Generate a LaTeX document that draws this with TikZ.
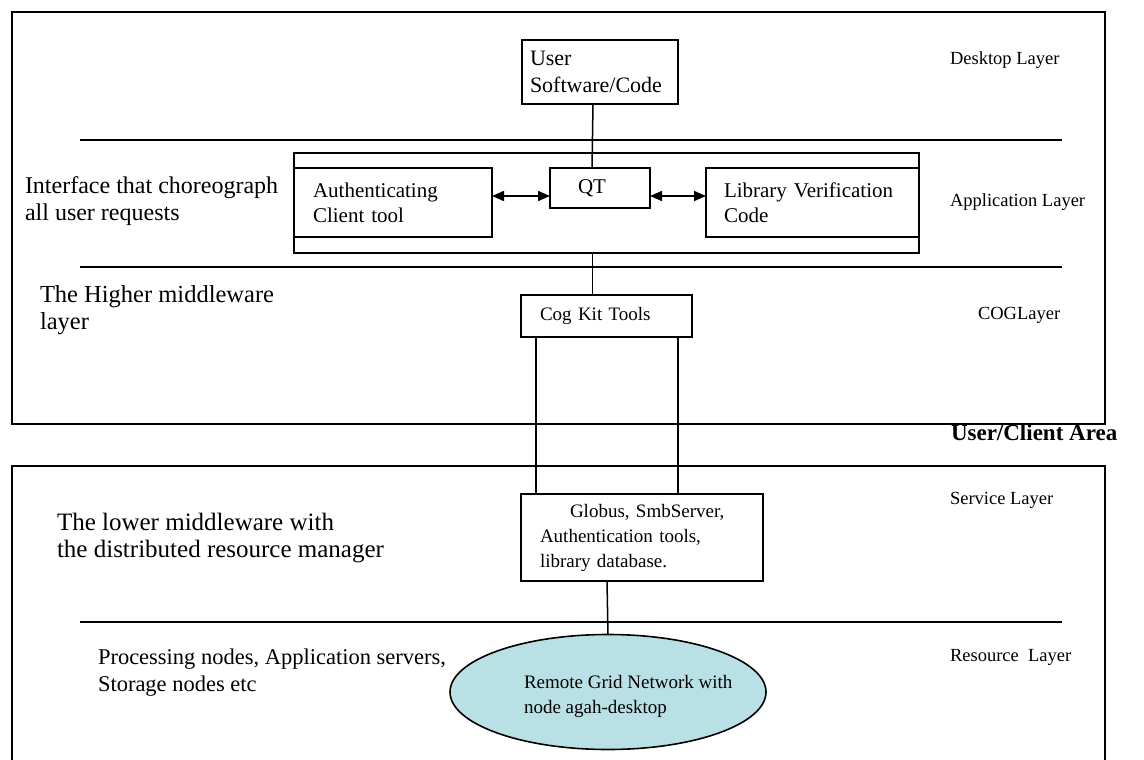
\documentclass[tikz,border=0pt]{standalone}
\usepackage{fontspec}
\setmainfont{Liberation Serif}
\usetikzlibrary{arrows.meta,shapes.geometric}
\definecolor{gridfill}{RGB}{185,224,228}
\begin{document}
\begin{tikzpicture}[x=1pt,y=-1pt,
  every node/.style={inner sep=0pt,outer sep=0pt},
  boxtext/.style={font=\fontsize{19}{25}\selectfont},
  bigbox/.style={font=\fontsize{21}{25}\selectfont},
  lefttext/.style={font=\fontsize{23.5}{27}\selectfont,align=left,anchor=west},
  righttext/.style={font=\fontsize{18.5}{22}\selectfont,anchor=west},
  plainbox/.style={draw,line width=1.5pt,boxtext,align=left},
  frame/.style={line width=1.8pt},
  conn/.style={line width=1.5pt},
  dbl/.style={line width=1.5pt,{Triangle[length=12pt,width=10pt]}-{Triangle[length=12pt,width=10pt]}}
]
\useasboundingbox (0,0) rectangle (1144,760);
% outer areas
\draw[frame] (12,12) rectangle (1105,424);
\draw[frame] (12,762) -- (12,466) -- (1105,466) -- (1105,762);
% layer separators
\draw[conn] (80,140) -- (1062,140);
\draw[conn] (80,267) -- (1062,267);
\draw[conn] (80,622) -- (1062,622);
% boxes
\node[plainbox,font=\fontsize{22}{27}\selectfont,minimum width=156pt,minimum height=64pt,text width=140pt,inner xsep=8pt] (user) at (600,72) {User\\Software/Code};
\node[draw,line width=1.5pt,minimum width=625pt,minimum height=100pt] (app) at (606.5,203) {};
\node[plainbox,bigbox,minimum width=198pt,minimum height=69pt,text width=160pt,inner xsep=19pt,anchor=west] (auth) at (294,202.5) {Authenticating\\Client tool};
\node[plainbox,bigbox,minimum width=100pt,minimum height=40pt,text width=44pt,inner xsep=28pt] (qt) at (600,188) {QT};
\node[plainbox,bigbox,minimum width=213pt,minimum height=69pt,text width=177pt,inner xsep=18pt,anchor=east] (lib) at (919,202.5) {Library Verification\\Code};
\node[plainbox,minimum width=171pt,minimum height=42pt,text width=133pt,inner xsep=19pt] (cog) at (606.5,316) {Cog Kit Tools};
\node[plainbox,minimum width=242pt,minimum height=87pt,text width=204pt,inner xsep=19pt] (glob) at (642,537.5) {\hspace*{30pt}Globus, SmbServer,\\Authentication tools,\\library database.};
\node[ellipse,draw,line width=1.6pt,fill=gridfill,minimum width=316pt,minimum height=115pt] (grid) at (608,692) {};
\node[boxtext,align=left,anchor=west] (gridtxt) at (524,696.5) {Remote Grid Network with\\node agah-desktop};
% connectors
\draw[conn] ([xshift=-7pt]user.south) -- ([xshift=-8pt]qt.north);
\draw[conn] ([xshift=-14pt]app.south) -- ([xshift=-14pt]cog.north);
\draw[conn] ([xshift=-70.5pt]cog.south) -- ([xshift=-106pt]glob.north);
\draw[conn] ([xshift=71.5pt]cog.south) -- ([xshift=36pt]glob.north);
\draw[conn] ([xshift=-35pt]glob.south) -- (grid.north);
\draw[dbl] ([yshift=6.5pt]auth.east) -- ([yshift=-8pt]qt.west);
\draw[dbl] ([yshift=-8pt]qt.east) -- ([yshift=6.5pt]lib.west);
% left labels
\node[lefttext,font=\fontsize{24}{27}\selectfont] (l1) at (25,201) {Interface that choreograph\\all user requests};
\node[lefttext,font=\fontsize{24.5}{27}\selectfont] (l2) at (40,310) {The Higher middleware\\layer};
\node[lefttext,font=\fontsize{25}{27}\selectfont] (l3) at (57,538) {The lower middleware with\\the distributed resource manager};
\node[lefttext,font=\fontsize{22.5}{27}\selectfont] (l4) at (98,673) {Processing nodes, Application servers,\\Storage nodes etc};
% right labels
\node[righttext] (r1) at (950,60) {Desktop Layer};
\node[righttext] (r2) at (950,202) {Application Layer};
\node[righttext] (r3) at (978,315) {COGLayer};
\node[righttext,font=\fontsize{23}{26}\selectfont\bfseries] (r4) at (951,433) {User/Client Area};
\node[righttext] (r5) at (950,500) {Service Layer};
\node[righttext] (r6) at (950,657) {Resource\ \ Layer};
\end{tikzpicture}
\end{document}
